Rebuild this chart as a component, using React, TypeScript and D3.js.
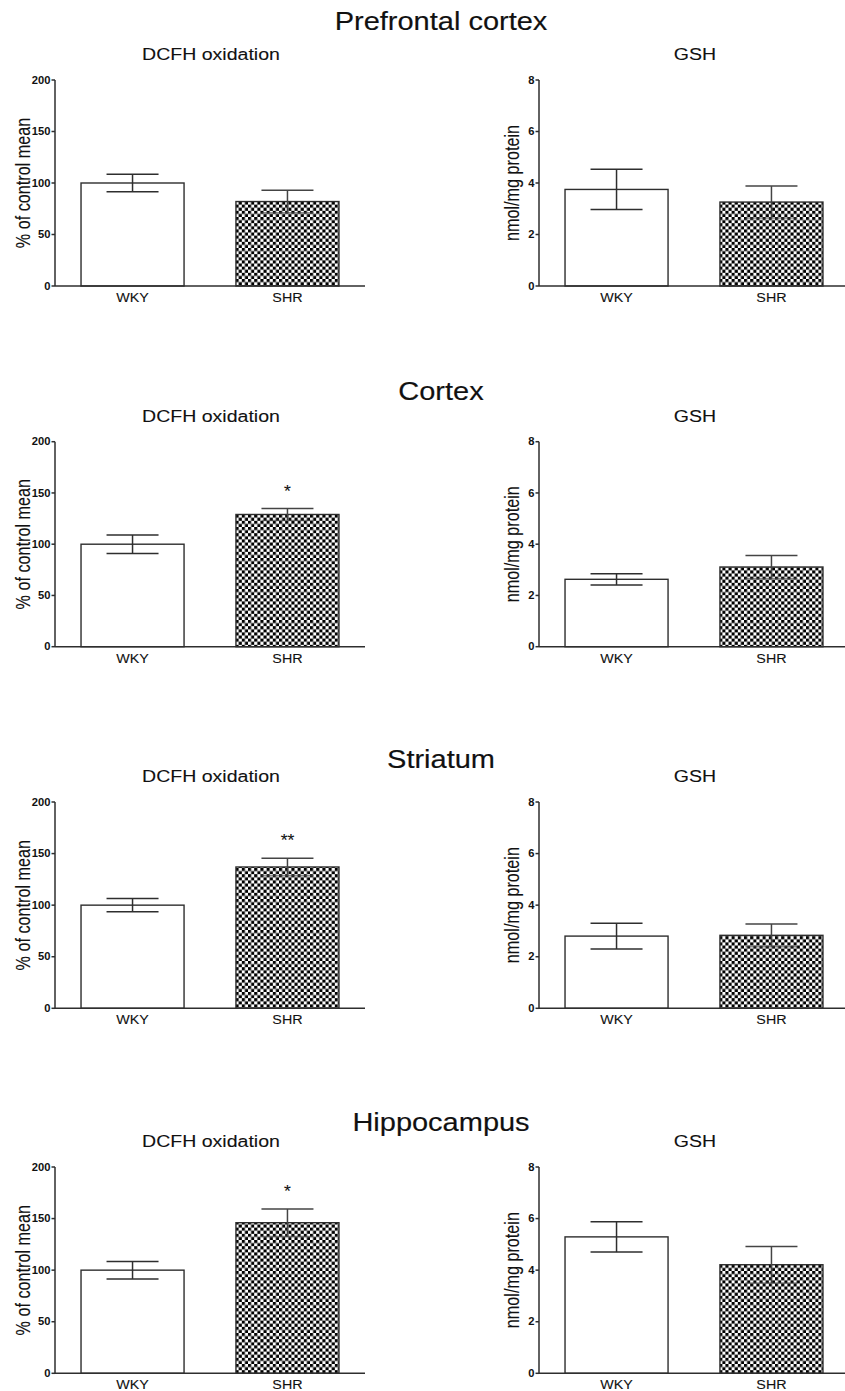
import React from "react";
import * as d3 from "d3";

// brain regions (one row each) and groups
const regions = ["Prefrontal cortex", "Cortex", "Striatum", "Hippocampus"];
const groups = ["WKY", "SHR"];

// DCFH oxidation, % of control mean
const dcfhMean = [
  [100, 82],
  [100, 129],
  [100, 137],
  [100, 146],
];
const dcfhSem = [
  [8.6, 11],
  [9, 5.8],
  [6.5, 8.4],
  [8.5, 13.3],
];
const dcfhSig = [
  ["", ""],
  ["", "*"],
  ["", "**"],
  ["", "*"],
];

// GSH, nmol/mg protein
const gshMean = [
  [3.75, 3.26],
  [2.63, 3.11],
  [2.8, 2.83],
  [5.29, 4.21],
];
const gshSem = [
  [0.78, 0.62],
  [0.22, 0.45],
  [0.5, 0.44],
  [0.59, 0.71],
];

const dcfhTicks = [0, 50, 100, 150, 200];
const gshTicks = [0, 2, 4, 6, 8];

// layout
const W = 845;
const H = 1391;
const rowTop = [80, 441.7, 802, 1167];
const rowBottom = [286, 646.7, 1008.3, 1373.3];
const titleY = [30, 400, 768, 1131];
const subY = [60, 421.7, 781.7, 1146.7];
const colX = [55, 539];
const plotW = 310;

const FONT = "'Liberation Sans', Arial, Helvetica, sans-serif";
const LINE = "#2e2e2e";

function SText({ x, y, sx = 1.15, size, weight = "normal", anchor = "middle", thick = 0.1, children }: any) {
  return (
    <text
      transform={`translate(${x},${y}) scale(${sx},1)`}
      fontSize={size}
      fontWeight={weight}
      textAnchor={anchor}
      fontFamily={FONT}
      fill="#111"
      stroke="#111"
      strokeWidth={thick}
    >
      {children}
    </text>
  );
}

function Panel({ row, col }: { row: number; col: number }) {
  const isDcfh = col === 0;
  const means = isDcfh ? dcfhMean[row] : gshMean[row];
  const sems = isDcfh ? dcfhSem[row] : gshSem[row];
  const sig = isDcfh ? dcfhSig[row] : ["", ""];
  const ticks = isDcfh ? dcfhTicks : gshTicks;
  const x0 = colX[col];
  const top = rowTop[row];
  const bottom = rowBottom[row];

  const y = d3.scaleLinear().domain([0, ticks[ticks.length - 1]]).range([bottom, top]);
  const x = d3
    .scaleBand()
    .domain(groups)
    .range([x0, x0 + plotW])
    .paddingInner(0.335)
    .paddingOuter(0.168);

  const bw = x.bandwidth();
  const capW = 52;
  const ylabel = isDcfh ? "% of control mean" : "nmol/mg protein";
  const labelX = isDcfh ? x0 - 25 : x0 - 20;

  return (
    <g>
      {/* subtitle */}
      <SText x={x0 + plotW / 2 + 1} y={subY[row]} size={17} sx={1.15}>
        {isDcfh ? "DCFH oxidation" : "GSH"}
      </SText>

      {/* bars */}
      {groups.map((g, i) => (
        <rect
          key={g}
          x={x(g)}
          y={y(means[i])}
          width={bw}
          height={bottom - y(means[i])}
          fill={i === 0 ? "#fff" : `url(#checker)`}
          stroke={LINE}
          strokeWidth={1.4}
        />
      ))}

      {/* error bars */}
      {groups.map((g, i) => {
        const cx = (x(g) as number) + bw / 2;
        const hi = y(means[i] + sems[i]);
        const lo = y(means[i] - sems[i]);
        const col2 = i === 0 ? LINE : "#444";
        return (
          <g key={g} stroke={col2} strokeWidth={1.5}>
            <line x1={cx} x2={cx} y1={hi} y2={lo} />
            <line x1={cx - capW / 2} x2={cx + capW / 2} y1={hi} y2={hi} />
            <line
              x1={cx - capW / 2}
              x2={cx + capW / 2}
              y1={lo}
              y2={lo}
              strokeOpacity={i === 0 ? 1 : 0.6}
            />
          </g>
        );
      })}

      {/* significance */}
      {groups.map((g, i) =>
        sig[i] ? (
          <SText key={g} x={(x(g) as number) + bw / 2} y={y(means[i] + sems[i]) - 12} size={16} sx={1.1}>
            {sig[i]}
          </SText>
        ) : null
      )}

      {/* y axis */}
      <line x1={x0} x2={x0} y1={top} y2={bottom} stroke={LINE} strokeWidth={1.5} />
      {ticks.map((t) => (
        <g key={t}>
          <line x1={x0 - 3.5} x2={x0} y1={y(t)} y2={y(t)} stroke={LINE} strokeWidth={1.5} />
          <SText x={x0 - 4.5} y={y(t) + 3.6} size={10} weight="bold" anchor="end" sx={1.12} thick={0}>
            {t}
          </SText>
        </g>
      ))}

      {/* x axis */}
      <line x1={x0} x2={x0 + plotW} y1={bottom} y2={bottom} stroke={LINE} strokeWidth={1.5} />
      {groups.map((g) => (
        <SText key={g} x={(x(g) as number) + bw / 2} y={bottom + 16} size={13} sx={1.1}>
          {g}
        </SText>
      ))}

      {/* y label */}
      <text
        transform={`translate(${labelX},${(top + bottom) / 2}) scale(1.22,1) rotate(-90)`}
        fontSize={16.2}
        textAnchor="middle"
        fontFamily={FONT}
        fill="#111"
        stroke="#111"
        strokeWidth={0.1}
      >
        {ylabel}
      </text>
    </g>
  );
}

export default function App() {
  return (
    <svg
      width={W}
      height={H}
      viewBox={`0 0 ${W} ${H}`}
      style={{ position: "absolute", left: 0, top: 0, background: "#fff", display: "block" }}
    >
      <defs>
        <pattern id="checker" width={6.2} height={6.2} patternUnits="userSpaceOnUse">
          <rect width={6.2} height={6.2} fill="#fff" />
          <rect x={0} y={0} width={3.1} height={3.1} fill="#000" />
          <rect x={3.1} y={3.1} width={3.1} height={3.1} fill="#000" />
        </pattern>
      </defs>
      <rect width={W} height={H} fill="#fff" />
      {regions.map((r, row) => (
        <g key={r}>
          <SText x={441} y={titleY[row]} size={25} sx={1.16} thick={0.15}>
            {r}
          </SText>
          <Panel row={row} col={0} />
          <Panel row={row} col={1} />
        </g>
      ))}
    </svg>
  );
}
